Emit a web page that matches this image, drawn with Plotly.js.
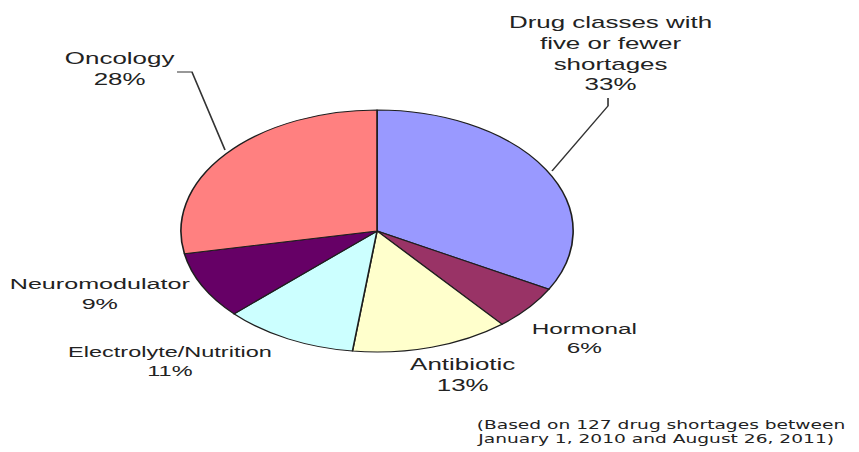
<!DOCTYPE html>
<html>
<head>
<meta charset="utf-8">
<script src="https://cdn.plot.ly/plotly-3.0.1.min.js"></script>
<style>
  html, body { margin: 0; padding: 0; background: #fff; overflow: hidden; }
  /* The chart is laid out narrow and widened horizontally, giving the oval pie and wide lettering. */
  #chart { width: 530px; height: 452px; transform: scaleX(1.6208); transform-origin: 0 0; }
</style>
</head>
<body>
<div id="chart"></div>
<script>
// Drug shortages by drug class, Jan 1 2010 - Aug 26 2011 (127 shortages)
const categories = ['Drug classes with five or fewer shortages', 'Hormonal', 'Antibiotic',
                    'Electrolyte/Nutrition', 'Neuromodulator', 'Oncology'];
const labelText = ['Drug classes with<br>five or fewer<br>shortages', 'Hormonal', 'Antibiotic',
                   'Electrolyte/Nutrition', 'Neuromodulator', 'Oncology'];
const shares = [33, 6, 13, 11, 9, 28];
const sliceColors = ['#9999ff', '#993366', '#ffffcc', '#ccffff', '#660066', '#ff8080'];
const footnote = ['(Based on 127 drug shortages between', 'January 1, 2010 and August 26, 2011)'];

const W = 859, H = 452;
const px = x => x / W;        // screen x -> paper x
const py = y => 1 - y / H;    // screen y -> paper y

const FONT = 'Liberation Sans, Arial, sans-serif';
const NOTE_FONT = 'DejaVu Sans, Verdana, sans-serif';
const INK = '#222';

const trace = {
  type: 'pie',
  labels: categories,
  values: shares,
  sort: false,
  direction: 'clockwise',
  rotation: 0,
  textinfo: 'none',
  hoverinfo: 'label+percent',
  marker: { colors: sliceColors, line: { color: '#1e1e1e', width: 1 } },
  domain: { x: [0.2106, 0.6672], y: [0.2212, 0.7566] },
  showlegend: false
};

// label placement per slice (screen coordinates of the label block centre)
const labelPos = [
  { x: 610, y: 53, size: 16 },
  { x: 585, y: 338, size: 15 },
  { x: 462, y: 375, size: 16 },
  { x: 170, y: 361, size: 14.5 },
  { x: 99,  y: 293, size: 15.5 },
  { x: 120, y: 69,  size: 16 }
];

const annotations = labelText.map((t, i) => ({
  xref: 'paper', yref: 'paper',
  x: px(labelPos[i].x), y: py(labelPos[i].y),
  xanchor: 'center', yanchor: 'middle',
  text: t + '<br>' + shares[i] + '%',
  showarrow: false,
  align: 'center',
  font: { family: FONT, size: labelPos[i].size, color: INK }
}));

footnote.forEach((t, i) => annotations.push({
  xref: 'paper', yref: 'paper',
  x: px(473), y: py(425 + i * 14),
  xanchor: 'left', yanchor: 'middle',
  text: t, showarrow: false,
  font: { family: NOTE_FONT, size: 11.5, color: INK }
}));

const pathOf = pts => pts.map((p, i) => (i ? 'L' : 'M') + px(p[0]) + ',' + py(p[1])).join(' ');

const shapes = [
  // leader line for Oncology
  { type: 'path', xref: 'paper', yref: 'paper',
    path: pathOf([[177, 72], [192, 72], [225, 150]]),
    line: { color: '#333', width: 1 } },
  // leader line for the small drug classes
  { type: 'path', xref: 'paper', yref: 'paper',
    path: pathOf([[608, 98], [608, 106], [552, 171]]),
    line: { color: '#333', width: 1 } }
];

const layout = {
  width: 530, height: 452,
  margin: { l: 0, r: 0, t: 0, b: 0 },
  paper_bgcolor: '#fff',
  plot_bgcolor: '#fff',
  annotations: annotations,
  shapes: shapes,
  showlegend: false
};

Plotly.newPlot('chart', [trace], layout, { displayModeBar: false, staticPlot: true });
</script>
</body>
</html>
